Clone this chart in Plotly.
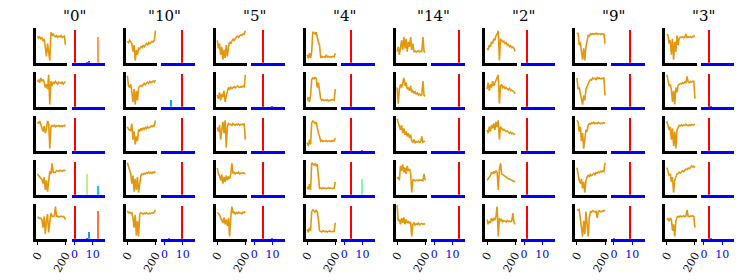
import math
import plotly.graph_objects as go

# ---------------- data ----------------
titles = ['"0"', '"10"', '"5"', '"4"', '"14"', '"2"', '"9"', '"3"']
true_class = [0, 10, 5, 4, 14, 2, 9, 3]

line_x = list(range(0, 201, 8))  # sample positions (0..200)

series_0 = [
    [0.78,0.72,0.76,0.70,0.74,0.62,0.70,0.45,0.15,0.55,0.20,0.02,0.90,0.80,0.86,0.78,0.76,0.80,0.74,0.78,0.76,0.80,0.74,0.76,0.78,0.50],
    [0.73,0.80,0.70,0.85,0.75,0.80,0.72,0.55,0.65,0.50,0.95,0.02,0.75,0.60,0.72,0.68,0.74,0.70,0.66,0.72,0.70,0.68,0.72,0.66,0.70,0.74],
    [0.85,0.80,0.88,0.78,0.70,0.55,0.72,0.50,0.65,0.88,0.80,0.02,0.70,0.74,0.72,0.75,0.70,0.73,0.72,0.74,0.71,0.73,0.70,0.74,0.72,0.76],
    [0.60,0.56,0.50,0.45,0.42,0.30,0.50,0.10,0.40,0.05,0.35,0.68,0.60,0.93,0.65,0.64,0.66,0.70,0.70,0.68,0.71,0.70,0.69,0.71,0.70,0.72],
    [0.59,0.62,0.58,0.60,0.55,0.30,0.65,0.10,0.50,0.72,0.15,0.40,0.75,0.66,0.64,0.66,0.95,0.65,0.66,0.63,0.65,0.66,0.64,0.65,0.62,0.55],
]
series_10 = [
    [0.62,0.58,0.65,0.60,0.55,0.30,0.50,0.02,0.35,0.20,0.40,0.38,0.45,0.42,0.50,0.45,0.52,0.55,0.50,0.58,0.55,0.60,0.62,0.60,0.65,0.95],
    [0.92,0.60,0.55,0.65,0.40,0.10,0.50,0.02,0.45,0.15,0.55,0.60,0.62,0.58,0.65,0.68,0.64,0.70,0.72,0.68,0.74,0.70,0.72,0.75,0.72,0.78],
    [0.70,0.62,0.60,0.58,0.80,0.30,0.55,0.15,0.40,0.25,0.62,0.55,0.65,0.60,0.66,0.62,0.68,0.64,0.70,0.66,0.68,0.72,0.70,0.74,0.72,0.90],
    [0.95,0.85,0.70,0.60,0.30,0.55,0.05,0.45,0.10,0.50,0.02,0.40,0.55,0.60,0.58,0.62,0.60,0.64,0.62,0.66,0.63,0.65,0.62,0.66,0.64,0.68],
    [0.82,0.76,0.78,0.74,0.76,0.60,0.30,0.70,0.05,0.50,0.02,0.72,0.76,0.74,0.72,0.75,0.73,0.76,0.74,0.72,0.75,0.74,0.76,0.75,0.78,0.85],
]
series_5 = [
    [0.65,0.40,0.55,0.20,0.45,0.05,0.35,0.10,0.50,0.15,0.45,0.60,0.55,0.62,0.70,0.65,0.72,0.75,0.78,0.74,0.80,0.82,0.80,0.85,0.84,0.95],
    [0.32,0.20,0.40,0.15,0.35,0.25,0.45,0.10,0.30,0.40,0.55,0.50,0.56,0.52,0.55,0.58,0.54,0.56,0.60,0.57,0.55,0.58,0.56,0.60,0.58,0.95],
    [0.68,0.55,0.75,0.30,0.60,0.85,0.50,0.90,0.05,0.70,0.80,0.76,0.78,0.74,0.80,0.77,0.75,0.78,0.76,0.79,0.75,0.77,0.78,0.76,0.78,0.30],
    [0.79,0.60,0.55,0.40,0.58,0.30,0.50,0.35,0.55,0.40,0.52,0.45,0.60,0.93,0.62,0.65,0.60,0.64,0.62,0.66,0.60,0.63,0.61,0.64,0.62,0.60],
    [0.77,0.72,0.70,0.60,0.54,0.45,0.62,0.40,0.55,0.35,0.60,0.02,0.63,0.95,0.75,0.78,0.72,0.77,0.74,0.78,0.75,0.76,0.73,0.78,0.76,0.80],
]
series_4 = [
    [0.20,0.08,0.25,0.10,0.30,0.92,0.88,0.85,0.90,0.70,0.60,0.50,0.10,0.15,0.12,0.14,0.12,0.20,0.13,0.15,0.12,0.14,0.13,0.15,0.14,0.25],
    [0.15,0.25,0.10,0.30,0.80,0.85,0.82,0.86,0.84,0.55,0.70,0.50,0.20,0.15,0.18,0.14,0.16,0.15,0.17,0.14,0.16,0.15,0.18,0.16,0.15,0.50],
    [0.20,0.10,0.30,0.15,0.82,0.88,0.85,0.80,0.84,0.60,0.50,0.40,0.25,0.28,0.24,0.26,0.25,0.27,0.24,0.26,0.25,0.24,0.27,0.25,0.26,0.35],
    [0.20,0.12,0.28,0.10,0.95,0.90,0.88,0.92,0.86,0.90,0.60,0.15,0.16,0.14,0.17,0.15,0.16,0.14,0.15,0.17,0.15,0.16,0.14,0.15,0.16,0.35],
    [0.25,0.15,0.30,0.20,0.80,0.85,0.82,0.78,0.84,0.80,0.55,0.20,0.18,0.16,0.20,0.18,0.17,0.19,0.16,0.18,0.20,0.17,0.18,0.19,0.18,0.45],
]
series_14 = [
    [0.30,0.45,0.20,0.50,0.65,0.35,0.75,0.40,0.70,0.30,0.60,0.45,0.75,0.35,0.55,0.30,0.32,0.28,0.30,0.33,0.29,0.31,0.30,0.75,0.30,0.28],
    [0.55,0.05,0.50,0.65,0.55,0.75,0.85,0.60,0.70,0.50,0.55,0.45,0.60,0.40,0.45,0.38,0.42,0.35,0.38,0.32,0.35,0.30,0.33,0.75,0.30,0.28],
    [0.95,0.80,0.70,0.60,0.75,0.50,0.65,0.45,0.55,0.40,0.50,0.35,0.45,0.25,0.22,0.30,0.20,0.24,0.22,0.25,0.21,0.23,0.40,0.22,0.24,0.25],
    [0.45,0.50,0.40,0.85,0.70,0.90,0.65,0.80,0.60,0.85,0.70,0.75,0.65,0.02,0.40,0.42,0.38,0.41,0.40,0.39,0.42,0.40,0.41,0.39,0.60,0.40],
    [1.00,0.50,0.55,0.40,0.60,0.45,0.62,0.40,0.55,0.45,0.50,0.42,0.48,0.02,0.40,0.45,0.38,0.42,0.40,0.44,0.39,0.41,0.43,0.40,0.42,0.40],
]
series_2 = [
    [0.40,0.35,0.50,0.45,0.60,0.55,0.70,0.65,0.80,0.85,0.95,0.02,0.70,0.65,0.60,0.62,0.55,0.58,0.50,0.52,0.45,0.48,0.42,0.44,0.40,0.30],
    [0.50,0.70,0.45,0.65,0.55,0.75,0.60,0.70,0.80,0.85,0.95,0.05,0.60,0.65,0.55,0.58,0.52,0.55,0.50,0.48,0.52,0.45,0.47,0.44,0.42,0.35],
    [0.60,0.50,0.70,0.55,0.75,0.65,0.80,0.60,0.85,0.70,0.90,0.30,0.70,0.65,0.60,0.62,0.58,0.55,0.57,0.52,0.50,0.53,0.48,0.50,0.46,0.45],
    [0.40,0.45,0.50,0.55,0.65,0.60,0.68,0.62,0.70,0.65,0.10,0.75,0.93,0.60,0.58,0.55,0.52,0.50,0.48,0.45,0.44,0.42,0.40,0.38,0.36,0.35],
    [0.55,0.40,0.50,0.45,0.60,0.50,0.58,0.55,0.65,0.95,0.02,0.60,0.50,0.55,0.48,0.52,0.50,0.47,0.52,0.49,0.50,0.48,0.51,0.75,0.45,0.40],
]
series_9 = [
    [0.85,0.88,0.50,0.60,0.30,0.05,0.40,0.02,0.45,0.60,0.80,0.78,0.85,0.83,0.86,0.84,0.85,0.87,0.84,0.86,0.85,0.83,0.86,0.84,0.85,0.55],
    [0.85,0.50,0.55,0.35,0.20,0.02,0.30,0.15,0.50,0.60,0.70,0.75,0.80,0.78,0.85,0.82,0.84,0.80,0.86,0.83,0.85,0.82,0.84,0.83,0.85,0.30],
    [0.90,0.85,0.55,0.70,0.25,0.50,0.02,0.40,0.60,0.55,0.75,0.80,0.78,0.82,0.80,0.84,0.79,0.82,0.80,0.83,0.81,0.79,0.82,0.80,0.83,0.80],
    [0.80,0.50,0.40,0.30,0.45,0.15,0.35,0.02,0.40,0.50,0.55,0.52,0.58,0.55,0.60,0.62,0.58,0.64,0.62,0.66,0.64,0.68,0.66,0.70,0.68,0.95],
    [0.85,0.84,0.86,0.60,0.20,0.02,0.50,0.10,0.80,0.30,0.02,0.60,0.80,0.78,0.82,0.80,0.79,0.81,0.60,0.80,0.82,0.79,0.81,0.80,0.82,0.85],
]
series_3 = [
    [0.85,0.80,0.55,0.65,0.20,0.70,0.05,0.60,0.30,0.80,0.50,0.72,0.75,0.74,0.76,0.73,0.75,0.85,0.74,0.76,0.75,0.77,0.74,0.76,0.78,0.80],
    [0.95,0.75,0.60,0.65,0.50,0.10,0.45,0.02,0.55,0.40,0.62,0.65,0.68,0.66,0.70,0.68,0.72,0.70,0.90,0.72,0.70,0.74,0.72,0.75,0.74,0.20],
    [0.88,0.75,0.60,0.70,0.30,0.65,0.10,0.55,0.02,0.60,0.70,0.74,0.72,0.76,0.73,0.75,0.74,0.78,0.75,0.73,0.76,0.74,0.77,0.75,0.76,0.78],
    [0.80,0.70,0.55,0.60,0.35,0.50,0.02,0.40,0.55,0.60,0.62,0.65,0.63,0.68,0.70,0.67,0.72,0.75,0.73,0.78,0.76,0.80,0.85,0.82,0.84,0.80],
    [0.55,0.58,0.50,0.60,0.55,0.20,0.40,0.02,0.50,0.62,0.65,0.63,0.66,0.64,0.65,0.67,0.64,0.66,0.85,0.65,0.64,0.66,0.65,0.67,0.64,0.30],
]
all_series = [series_0, series_10, series_5, series_4, series_14, series_2, series_9, series_3]

# other (non-true) class scores per group, per row: (class, score)
other_0 = [[(7,0.04),(8,0.06),(13,0.79)], [], [], [(7,0.62),(13,0.29)], [(7,0.05),(8,0.21),(13,0.85)]]
other_10 = [[], [(4,0.23)], [], [], [(3,0.03)]]
other_5 = [[], [(10,0.03)], [], [], [(10,0.03)]]
other_4 = [[], [], [(10,0.02)], [(10,0.48)], []]
other_14 = [[], [], [], [], []]
other_2 = [[], [], [], [], []]
other_9 = [[], [], [], [], [(0,0.03)]]
other_3 = [[], [(4,0.03)], [], [], [(4,0.04)]]
all_other = [other_0, other_10, other_5, other_4, other_14, other_2, other_9, other_3]
true_score = 1.0

# ---------------- style ----------------
# The page body has an 8px margin, so the figure is 740x272 placed at (8, 8).
OFF = 8
W, H = 740, 272
LINE_COLOR = "#e3970c"
FONT = "DejaVu Serif"


def rainbow(v):
    r = min(1.0, abs(2 * v - 0.5))
    g = max(0.0, math.sin(math.pi * v))
    b = max(0.0, math.cos(math.pi * v / 2))
    return "rgb(%d,%d,%d)" % (round(r * 255), round(g * 255), round(b * 255))


group_left = [29 + 91.4 * k - OFF for k in range(8)]
row_top = [27.5 + 44 * r - OFF for r in range(5)]
row_bot = [64.0 + 44 * r - OFF for r in range(5)]

fig = go.Figure()
layout = dict(
    width=W, height=H, margin=dict(l=0, r=0, t=0, b=0),
    paper_bgcolor="white", plot_bgcolor="white", showlegend=False,
    font=dict(family=FONT),
)
annotations = []
n = 0
for g in range(8):
    L = group_left[g]
    annotations.append(dict(text=titles[g], x=(L + 40.3) / W, y=1 - (15.5 - OFF) / H,
                            xref="paper", yref="paper", showarrow=False,
                            xanchor="center", yanchor="middle",
                            font=dict(family=FONT, size=15, color="black")))
    for r in range(5):
        ydom = [1 - (row_bot[r] - 1.2) / H, 1 - row_top[r] / H]
        bottom = (r == 4)
        # ---- line panel ----
        n += 1
        xs = "x" if n == 1 else f"x{n}"
        ys = "y" if n == 1 else f"y{n}"
        fig.add_trace(go.Scatter(x=line_x, y=all_series[g][r], mode="lines",
                                 line=dict(color=LINE_COLOR, width=1.6),
                                 xaxis=xs, yaxis=ys, hoverinfo="skip"))
        xa = dict(domain=[(L + 1.2) / W, (L + 33) / W], range=[-11.5, 211.5],
                  showline=True, linecolor="black", linewidth=2.5,
                  showgrid=False, zeroline=False, anchor=ys, fixedrange=True)
        if bottom:
            xa.update(tickmode="array", tickvals=[0, 200], ticktext=["0", "200"],
                      ticks="outside", ticklen=3, tickwidth=1.3, tickcolor="black",
                      tickangle=-60, showticklabels=True,
                      tickfont=dict(family=FONT, size=11, color="black"))
        else:
            xa.update(showticklabels=False, ticks="")
        ya = dict(domain=ydom, range=[-0.05, 1.05], showline=True, linecolor="black",
                  linewidth=2.5, showgrid=False, zeroline=False, showticklabels=False,
                  ticks="", anchor=xs, fixedrange=True)
        layout["xaxis" if n == 1 else f"xaxis{n}"] = xa
        layout["yaxis" if n == 1 else f"yaxis{n}"] = ya

        # ---- bar panel ----
        n += 1
        xs = f"x{n}"
        ys = f"y{n}"
        classes = [true_class[g]] + [c for c, s in all_other[g][r]]
        scores = [true_score] + [s for c, s in all_other[g][r]]
        colors = [rainbow(s) for s in scores]
        fig.add_trace(go.Bar(x=classes, y=scores, width=0.8,
                             marker=dict(color=colors, line=dict(width=0)),
                             xaxis=xs, yaxis=ys, hoverinfo="skip"))
        xb = dict(domain=[(L + 37.5) / W, (L + 71.5) / W], range=[-1.6, 16.7],
                  showline=True, linecolor="blue", linewidth=3,
                  showgrid=False, zeroline=False, anchor=ys, fixedrange=True)
        if bottom:
            xb.update(tickmode="array", tickvals=[0, 10], ticktext=["0", "10"],
                      ticks="outside", ticklen=3, tickwidth=1.3, tickcolor="blue",
                      showticklabels=True,
                      tickfont=dict(family=FONT, size=11, color="blue"))
        else:
            xb.update(showticklabels=False, ticks="")
        yb = dict(domain=ydom, range=[0, 1.05], showline=False, showgrid=False,
                  zeroline=False, showticklabels=False, ticks="", anchor=xs,
                  fixedrange=True)
        layout[f"xaxis{n}"] = xb
        layout[f"yaxis{n}"] = yb

layout["annotations"] = annotations
layout["bargap"] = 0
fig.update_layout(**layout)
fig.write_html("out.html")
